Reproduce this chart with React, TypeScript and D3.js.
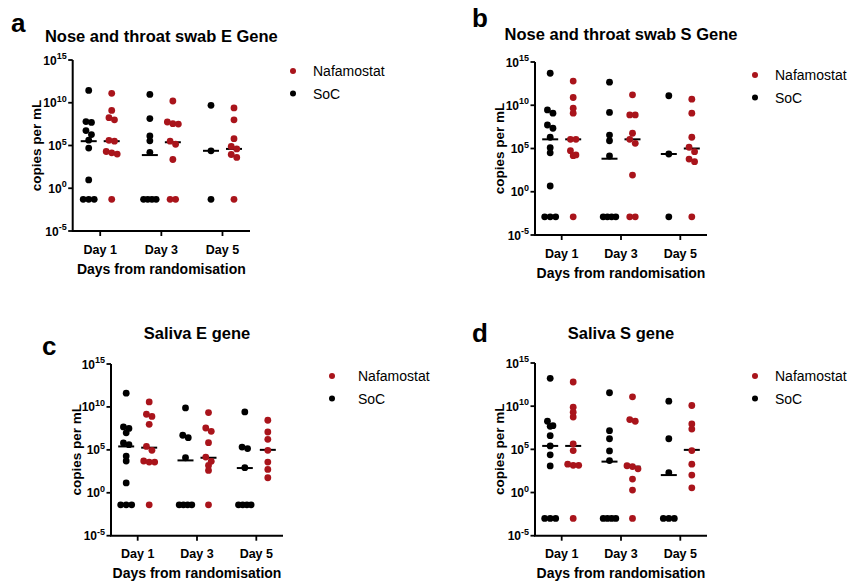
import React from 'react';
import * as d3 from 'd3';

const days = ['Day 1', 'Day 3', 'Day 5'];
const yTickExponents = [-5, 0, 5, 10, 15];
const legendGroups = ['Nafamostat', 'SoC'];

// copies per mL, one inner array per day; undetected samples are plotted at a floor value
const swabESoC = [
  [2.8e11, 6.3e7, 5e7, 5.5e6, 1.9e6, 4.2e5, 5e4, 9.3, 0.05, 0.05, 0.05],
  [9.3e10, 1.4e8, 1.3e6, 3.5e5, 1.6e4, 0.05, 0.05, 0.05, 0.05],
  [5e9, 2.4e4, 0.05],
];
const swabENaf = [
  [1.26e11, 1.26e9, 1.8e8, 1e8, 4e5, 3.2e5, 2e4, 1.4e4, 1e4, 0.05],
  [1.6e10, 5.6e7, 3.6e7, 3.2e7, 3.2e5, 1.4e5, 2.3e3, 0.05, 0.05],
  [2.5e9, 1e8, 6.3e5, 7.9e4, 4e4, 8.9e3, 4e3, 0.05],
];
const swabEMedSoC = [3.2e5, 7.6e3, 2.4e4];
const swabEMedNaf = [3.2e5, 2.4e5, 4e4];

const swabSSoC = [
  [5e13, 2.9e9, 1.2e9, 5.2e7, 2.2e7, 2e6, 1.26e5, 3.2e4, 4.6, 1.26e-3, 1.26e-3, 1.26e-3],
  [4.6e12, 1.5e9, 3.6e6, 7.9e5, 1.35e4, 1.26e-3, 1.26e-3, 1.26e-3, 1.26e-3],
  [1.26e11, 2.3e4, 1.26e-3],
];
const swabSNaf = [
  [6.3e12, 7.9e10, 4.5e9, 1.2e9, 1.15e6, 1.15e6, 5.6e4, 1.8e4, 1.5e4, 1.26e-3],
  [1.6e11, 7.6e8, 7.6e8, 5.8e6, 1.15e6, 4e5, 85, 1.26e-3, 1.26e-3],
  [5e10, 1.2e9, 2e6, 1.4e5, 4.3e4, 6e3, 3e3, 1.26e-3],
];
const swabSMedSoC = [1.15e6, 6.6e3, 2.3e4];
const swabSMedNaf = [1.15e6, 1.15e6, 1e5];

const salivaESoC = [
  [4e11, 4.7e7, 3.1e7, 9.5e6, 6.3e5, 4e5, 1.9e4, 5e3, 14, 0.04, 0.04, 0.04],
  [7.6e9, 5e6, 2.6e6, 1.2e4, 0.04, 0.04, 0.04, 0.04],
  [2.6e9, 2.1e5, 1.4e5, 830, 0.04, 0.04, 0.04, 0.04],
];
const salivaENaf = [
  [3.8e10, 1.4e9, 7.9e8, 9.5e7, 2.5e5, 8.7e4, 5e3, 3.8e3, 3.8e3, 0.04],
  [2.2e9, 3.5e7, 1.45e7, 6.9e5, 1.45e4, 4.6e3, 1.55e3, 400, 0.04],
  [2.8e8, 1.2e7, 1.7e6, 8.7e4, 3.8e3, 525, 56],
];
const salivaEMedSoC = [2.5e5, 5.9e3, 760];
const salivaEMedNaf = [1.8e5, 1.2e4, 1e5];

const salivaSSoC = [
  [1.7e13, 1.8e8, 5.5e7, 4.7e7, 3.8e6, 2.5e5, 2.3e4, 1.2e3, 1e-3, 1e-3, 1e-3],
  [3.6e11, 1.45e7, 1.7e6, 6.6e4, 5e3, 1e-3, 1e-3, 1e-3, 1e-3],
  [3.8e10, 1.7e6, 200, 1e-3, 1e-3, 1e-3],
];
const salivaSNaf = [
  [6.3e12, 7.6e9, 2e9, 5.6e8, 4.4e5, 7.2e4, 1.9e3, 1.4e3, 1.4e3, 1e-3],
  [1.2e11, 2.8e8, 1.8e8, 1.26e3, 1e3, 560, 36, 1.9, 1e-3],
  [1.2e10, 8.7e7, 2.2e7, 7.2e4, 1.9e3, 105, 3.5],
];
const salivaSMedSoC = [2.5e5, 3.8e3, 105];
const salivaSMedNaf = [2.5e5, 1e3, 8.7e4];

const RED = '#a9141b';
const FONT = '"Liberation Sans", Arial, Helvetica, sans-serif';

type Panel = {
  letter: string;
  title: string;
  soc: number[][];
  naf: number[][];
  medSoc: number[];
  medNaf: number[];
  left: number;
  right: number;
  top: number;
  bottom: number;
  letterX: number;
  letterY: number;
  titleY: number;
  yLabelX: number;
  legendX: number;
  legendY: number;
  legendGap: number;
};

const panels: Panel[] = [
  {
    letter: 'a', title: 'Nose and throat swab E Gene',
    soc: swabESoC, naf: swabENaf, medSoc: swabEMedSoC, medNaf: swabEMedNaf,
    left: 72.7, right: 250, top: 60, bottom: 231,
    letterX: 11, letterY: 32, titleY: 41.5, yLabelX: 41,
    legendX: 293, legendY: 71, legendGap: 20,
  },
  {
    letter: 'b', title: 'Nose and throat swab S Gene',
    soc: swabSSoC, naf: swabSNaf, medSoc: swabSMedSoC, medNaf: swabSMedNaf,
    left: 535, right: 707, top: 62, bottom: 235,
    letterX: 472, letterY: 27, titleY: 40, yLabelX: 504,
    legendX: 755, legendY: 75, legendGap: 20,
  },
  {
    letter: 'c', title: 'Saliva E gene',
    soc: salivaESoC, naf: salivaENaf, medSoc: salivaEMedSoC, medNaf: salivaEMedNaf,
    left: 111, right: 283, top: 364, bottom: 535.7,
    letterX: 42, letterY: 355, titleY: 338.5, yLabelX: 81,
    legendX: 332, legendY: 376, legendGap: 26,
  },
  {
    letter: 'd', title: 'Saliva S gene',
    soc: salivaSSoC, naf: salivaSNaf, medSoc: salivaSMedSoC, medNaf: salivaSMedNaf,
    left: 535, right: 707, top: 363, bottom: 535.7,
    letterX: 472, letterY: 342, titleY: 339, yLabelX: 504,
    legendX: 755, legendY: 376, legendGap: 20,
  },
];

// GraphPad-style scatter: points that would overlap are laid side by side
function spread(values: number[], y: (v: number) => number) {
  const pts = values.map((v) => ({ py: y(v) })).sort((a, b) => a.py - b.py);
  const out: { py: number; dx: number }[] = [];
  let cluster: { py: number }[] = [];
  const flush = () => {
    const gap = cluster.length > 3 ? 4.2 : 5.5;
    cluster.forEach((p, i) => out.push({ py: p.py, dx: (i - (cluster.length - 1) / 2) * gap }));
    cluster = [];
  };
  for (const p of pts) {
    if (cluster.length && p.py - cluster[0].py > 4.5) flush();
    cluster.push(p);
  }
  flush();
  return out;
}

const ChartPanel = ({ p }: { p: Panel }) => {
  const x = d3.scalePoint<string>().domain(days).range([p.left, p.right]).padding(0.45);
  const y = d3.scaleLog().domain([1e-5, 1e15]).range([p.bottom, p.top]);
  const cx = (p.left + p.right) / 2;
  const cy = (p.top + p.bottom) / 2;
  const offsets = [-11.5, 11.5];

  const series = [
    { data: p.soc, med: p.medSoc, color: '#000', off: offsets[0] },
    { data: p.naf, med: p.medNaf, color: RED, off: offsets[1] },
  ];

  return (
    <g>
      <text x={p.letterX} y={p.letterY} fontSize={26} fontWeight="bold">{p.letter}</text>
      <text x={cx} y={p.titleY} fontSize={16.5} fontWeight="bold" textAnchor="middle">{p.title}</text>

      {/* medians under the dots */}
      {series.map((s, si) =>
        days.map((d, di) => (
          <line key={`m${si}${di}`} x1={(x(d) ?? 0) + s.off - 8} x2={(x(d) ?? 0) + s.off + 8}
            y1={y(s.med[di])} y2={y(s.med[di])} stroke="#000" strokeWidth={2} />
        ))
      )}

      {series.map((s, si) =>
        days.map((d, di) =>
          spread(s.data[di], y).map((pt, k) => (
            <circle key={`c${si}${di}${k}`} cx={(x(d) ?? 0) + s.off + pt.dx} cy={pt.py} r={3.4} fill={s.color} />
          ))
        )
      )}

      {/* axes */}
      <path d={`M${p.left},${p.top}V${p.bottom}H${p.right}`} fill="none" stroke="#000" strokeWidth={2} />
      {yTickExponents.map((e) => (
        <g key={e} transform={`translate(${p.left},${y(Math.pow(10, e))})`}>
          <line x1={-4.5} x2={0} stroke="#000" strokeWidth={1.8} />
          <text x={-6} y={4.5} textAnchor="end" fontSize={12} fontWeight="bold">
            10<tspan fontSize={9} dy={-5.5}>{e}</tspan>
          </text>
        </g>
      ))}
      {days.map((d) => (
        <g key={d} transform={`translate(${x(d)},${p.bottom})`}>
          <line y1={0} y2={5} stroke="#000" strokeWidth={1.8} />
          <text y={22.5} textAnchor="middle" fontSize={12.5} fontWeight="bold">{d}</text>
        </g>
      ))}
      <text x={cx} y={p.bottom + 42.5} textAnchor="middle" fontSize={14} fontWeight="bold">
        Days from randomisation
      </text>
      <text transform={`translate(${p.yLabelX},${cy}) rotate(-90)`} textAnchor="middle" fontSize={13.5} fontWeight="bold">
        copies per mL
      </text>

      {/* legend */}
      {legendGroups.map((g, i) => (
        <g key={g} transform={`translate(${p.legendX},${p.legendY + i * 22.5})`}>
          <circle r={3} fill={g === 'SoC' ? '#000' : RED} />
          <text x={p.legendGap} y={5} fontSize={14}>{g}</text>
        </g>
      ))}
    </g>
  );
};

export default function App() {
  return (
    <svg width={848} height={583} style={{ position: 'absolute', left: 0, top: 0, background: '#fff' }}
      fontFamily={FONT}>
      <rect width={848} height={583} fill="#fff" />
      {panels.map((p) => <ChartPanel key={p.letter} p={p} />)}
    </svg>
  );
}
